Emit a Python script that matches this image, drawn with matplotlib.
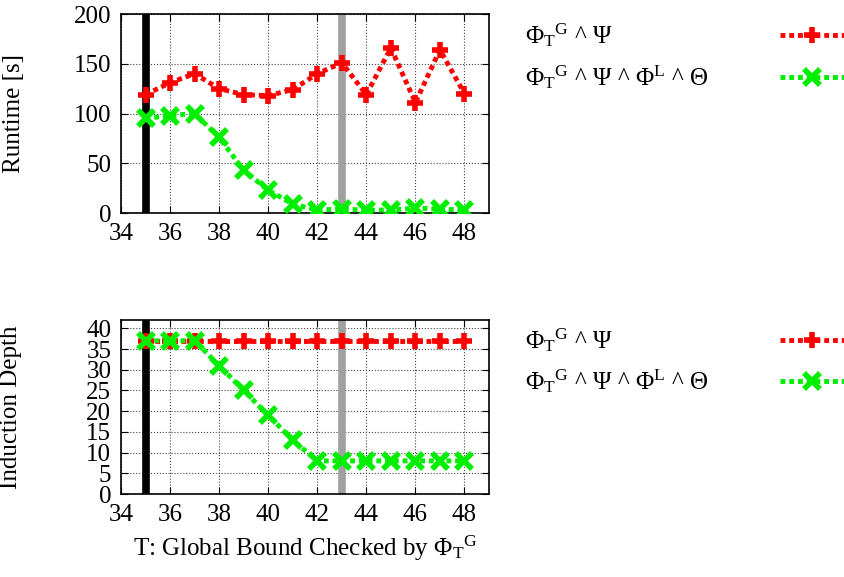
import matplotlib
matplotlib.use('Agg')
import matplotlib.pyplot as plt
from matplotlib.lines import Line2D

plt.rcParams['font.family'] = 'Liberation Serif'
plt.rcParams['mathtext.fontset'] = 'custom'
plt.rcParams['mathtext.rm'] = 'Liberation Serif'
plt.rcParams['mathtext.it'] = 'Liberation Serif:italic'
plt.rcParams['font.size'] = 18

# global bound T
bounds = [35, 36, 37, 38, 39, 40, 41, 42, 43, 44, 45, 46, 47, 48]
# runtime [s]
runtime_plain = [119, 131, 140, 125, 119, 118, 124, 140, 151, 119, 166, 111, 164, 120]
runtime_local = [95, 98, 100, 76, 43, 23, 9, 3, 4, 3, 3, 5, 4, 3]
# induction depth
depth_plain = [37, 37, 37, 37, 37, 37, 37, 37, 37, 37, 37, 37, 37, 37]
depth_local = [37, 37, 37, 31, 25, 19, 13, 8, 8, 8, 8, 8, 8, 8]
marks = [35, 43]

lab1 = r'$\Phi_{\mathrm{T}}{}^{\mathrm{G}}$ ^ $\Psi$'
lab2 = r'$\Phi_{\mathrm{T}}{}^{\mathrm{G}}$ ^ $\Psi$ ^ $\Phi^{\mathrm{L}}$ ^ $\Theta$'
xlab = r'T: Global Bound Checked by $\Phi_{\mathrm{T}}{}^{\mathrm{G}}$'

RED = '#ff0000'
GREEN = '#00ee00'
dash = (0, (1.0, 0.8))

fig = plt.figure(figsize=(8.45, 5.77), dpi=100)
ax1 = fig.add_axes([0.1432, 0.6308, 0.4355, 0.3449])
ax2 = fig.add_axes([0.1432, 0.1438, 0.4355, 0.3016])


def draw(ax, y1, y2):
    ax.axvline(marks[0], color='black', lw=5.5, zorder=2)
    ax.axvline(marks[1], color='#a0a0a0', lw=5.5, zorder=2)
    ax.plot(bounds, y1, color=RED, ls=dash, lw=3.5, marker='+', ms=12, mew=4, zorder=3)
    ax.plot(bounds, y2, color=GREEN, ls=dash, lw=3.5, marker='x', ms=11, mew=4, zorder=4)
    ax.set_xlim(34, 49)
    ax.set_xticks(range(34, 49, 2))
    ax.grid(True, color='#444444', ls=':', lw=0.8)
    ax.tick_params(direction='in', top=True, right=True, length=5, pad=7)
    for s in ax.spines.values():
        s.set_linewidth(1.2)


draw(ax1, runtime_plain, runtime_local)
ax1.set_ylim(0, 200)
ax1.set_yticks(range(0, 201, 50))
ax1.set_ylabel('Runtime [s]')

draw(ax2, depth_plain, depth_local)
ax2.set_ylim(0, 42)
ax2.set_yticks(range(0, 41, 5))
ax2.set_ylabel('Induction Depth')
ax2.set_xlabel(xlab, labelpad=6)
ax1.yaxis.set_label_coords(-0.26, 0.5)
ax2.yaxis.set_label_coords(-0.27, 0.5)

# keys drawn to the right of each panel
W, H = 845.0, 577.0
for ys in ([35, 77], [340, 381]):
    for y, lab, col, mk, ms in ((ys[0], lab1, RED, '+', 12), (ys[1], lab2, GREEN, 'x', 11)):
        fy = 1 - y / H
        fig.text(525 / W, fy, lab, va='center', ha='left')
        fig.add_artist(Line2D([780 / W, 860 / W], [fy, fy], color=col, ls=dash, lw=3.5,
                              transform=fig.transFigure))
        fig.add_artist(Line2D([812 / W], [fy], color=col, marker=mk, ms=ms, mew=4,
                              transform=fig.transFigure))

fig.savefig('out.png', dpi=100)
